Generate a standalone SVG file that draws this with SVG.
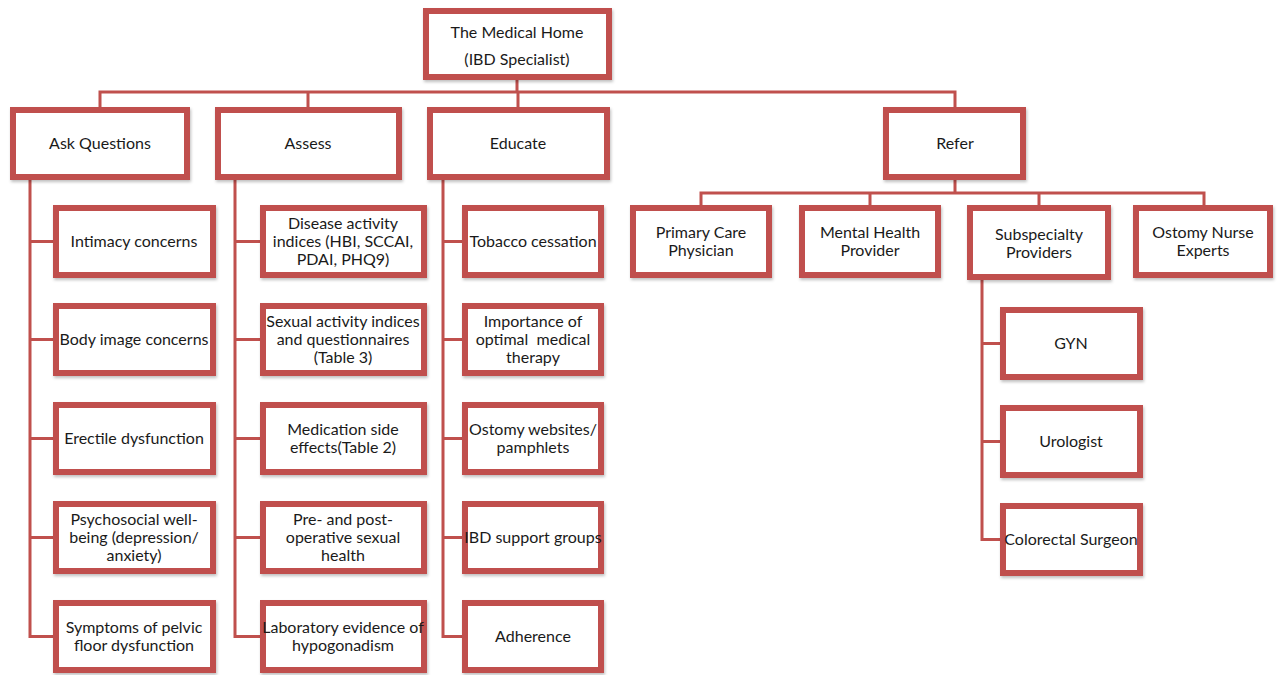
<svg xmlns="http://www.w3.org/2000/svg" width="1277" height="675" viewBox="0 0 1277 675">
<style>
.box{fill:#ffffff;stroke:#C0504D;stroke-width:6;filter:url(#sh)}
.con{fill:none;stroke:#C0504D;stroke-width:3}
text{font-family:Lato,"Open Sans","Liberation Sans",sans-serif;font-size:16px;fill:#1a1a1a;text-anchor:middle}
</style>
<defs>
<filter id="sh" x="-10%" y="-10%" width="120%" height="130%">
<feDropShadow dx="1" dy="2" stdDeviation="1.5" flood-color="#000" flood-opacity="0.25"/>
</filter>
</defs>
<rect width="1277" height="675" fill="#ffffff"/>
<g id="connectors">
<path class="con" d="M517,80 V92 M100,107 V92 H955 V107 M308,92 V107 M518,92 V107"/>
<path class="con" d="M955,180 V193 M701,205 V193 H1204 V205 M870,193 V205 M1039,193 V205"/>
<path class="con" d="M30,180 V636.5 H53 M30,241.5 H53 M30,339.5 H53 M30,438.5 H53 M30,537.5 H53"/>
<path class="con" d="M235,180 V636.5 H260 M235,241.5 H260 M235,339.5 H260 M235,438.5 H260 M235,537.5 H260"/>
<path class="con" d="M443,180 V636.5 H462 M443,241.5 H462 M443,339.5 H462 M443,438.5 H462 M443,537.5 H462"/>
<path class="con" d="M982,280 V539.5 H1000 M982,343.5 H1000 M982,441.5 H1000"/>
</g>
<g id="home"><rect class="box" x="426" y="11" width="183" height="66"/><text x="517" y="37.5">The Medical Home</text><text x="517" y="64.5">(IBD Specialist)</text></g>
<g id="ask"><rect class="box" x="13" y="110" width="174" height="67"/><text x="100" y="149">Ask Questions</text></g>
<g id="assess"><rect class="box" x="218" y="110" width="181" height="67"/><text x="308" y="149">Assess</text></g>
<g id="educate"><rect class="box" x="430" y="110" width="177" height="67"/><text x="518" y="149">Educate</text></g>
<g id="refer"><rect class="box" x="886" y="110" width="137" height="67"/><text x="955" y="149">Refer</text></g>

<g id="ask1"><rect class="box" x="56" y="208" width="157" height="67"/><text x="134" y="247">Intimacy concerns</text></g>
<g id="ask2"><rect class="box" x="56" y="306" width="157" height="67"/><text x="134" y="345">Body image concerns</text></g>
<g id="ask3"><rect class="box" x="56" y="405" width="157" height="67"/><text x="134" y="444">Erectile dysfunction</text></g>
<g id="ask4"><rect class="box" x="56" y="504" width="157" height="67"/><text x="134" y="525">Psychosocial well-</text><text x="134" y="543">being (depression/</text><text x="134" y="561">anxiety)</text></g>
<g id="ask5"><rect class="box" x="56" y="603" width="157" height="67"/><text x="134" y="633">Symptoms of pelvic</text><text x="134" y="651">floor dysfunction</text></g>

<g id="assess1"><rect class="box" x="263" y="208" width="161" height="67"/><text x="343" y="229">Disease activity</text><text x="343" y="247">indices (HBI, SCCAI,</text><text x="343" y="265">PDAI, PHQ9)</text></g>
<g id="assess2"><rect class="box" x="263" y="306" width="161" height="67"/><text x="343" y="327">Sexual activity indices</text><text x="343" y="345">and questionnaires</text><text x="343" y="363">(Table 3)</text></g>
<g id="assess3"><rect class="box" x="263" y="405" width="161" height="67"/><text x="343" y="435">Medication side</text><text x="343" y="453">effects(Table 2)</text></g>
<g id="assess4"><rect class="box" x="263" y="504" width="161" height="67"/><text x="343" y="525">Pre- and post-</text><text x="343" y="543">operative sexual</text><text x="343" y="561">health</text></g>
<g id="assess5"><rect class="box" x="263" y="603" width="161" height="67"/><text x="343" y="633">Laboratory evidence of</text><text x="343" y="651">hypogonadism</text></g>

<g id="edu1"><rect class="box" x="465" y="208" width="136" height="67"/><text x="533" y="247">Tobacco cessation</text></g>
<g id="edu2"><rect class="box" x="465" y="306" width="136" height="67"/><text x="533" y="327">Importance of</text><text x="533" y="345" style="white-space:pre">optimal  medical</text><text x="533" y="363">therapy</text></g>
<g id="edu3"><rect class="box" x="465" y="405" width="136" height="67"/><text x="533" y="435">Ostomy websites/</text><text x="533" y="453">pamphlets</text></g>
<g id="edu4"><rect class="box" x="465" y="504" width="136" height="67"/><text x="533" y="543">IBD support groups</text></g>
<g id="edu5"><rect class="box" x="465" y="603" width="136" height="67"/><text x="533" y="642">Adherence</text></g>

<g id="ref1"><rect class="box" x="633" y="208" width="136" height="67"/><text x="701" y="238">Primary Care</text><text x="701" y="256">Physician</text></g>
<g id="ref2"><rect class="box" x="802" y="208" width="136" height="67"/><text x="870" y="238">Mental Health</text><text x="870" y="256">Provider</text></g>
<g id="ref3"><rect class="box" x="970" y="208" width="138" height="69"/><text x="1039" y="240">Subspecialty</text><text x="1039" y="258">Providers</text></g>
<g id="ref4"><rect class="box" x="1136" y="208" width="134" height="67"/><text x="1203" y="238">Ostomy Nurse</text><text x="1203" y="256">Experts</text></g>

<g id="sub1"><rect class="box" x="1003" y="310" width="137" height="67"/><text x="1071" y="349">GYN</text></g>
<g id="sub2"><rect class="box" x="1003" y="408" width="137" height="67"/><text x="1071" y="447">Urologist</text></g>
<g id="sub3"><rect class="box" x="1003" y="506" width="137" height="67"/><text x="1071" y="545">Colorectal Surgeon</text></g>
</svg>
